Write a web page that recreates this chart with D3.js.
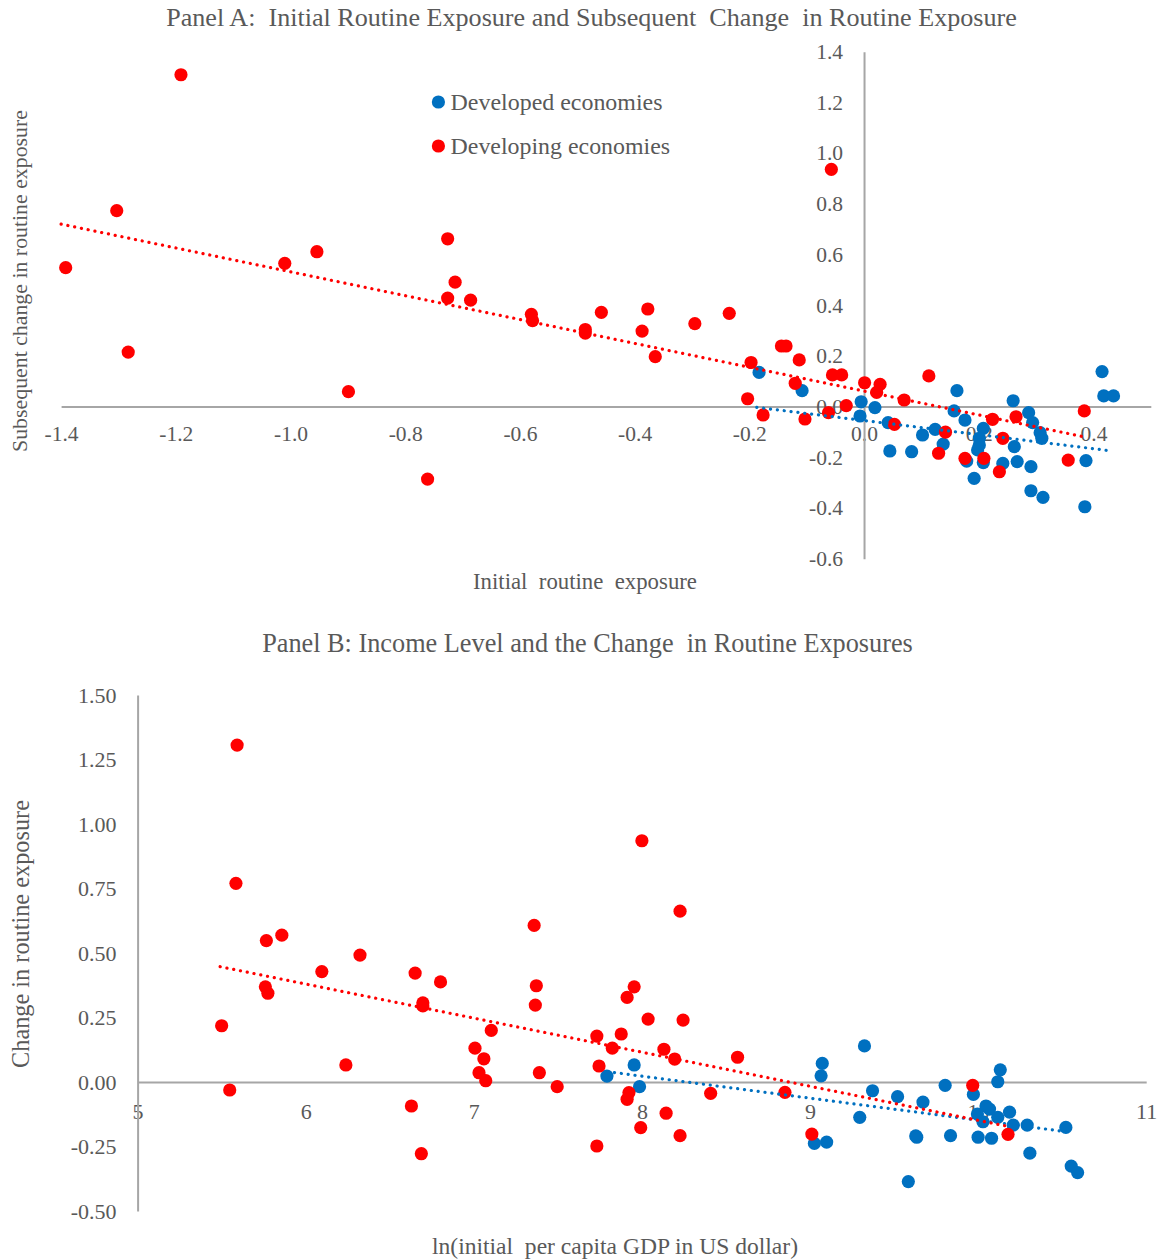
<!DOCTYPE html>
<html>
<head>
<meta charset="utf-8">
<script src="https://cdn.jsdelivr.net/npm/d3@7"></script>
<style>
  body { margin: 0; background: #fff; }
  text { font-family: "Liberation Serif", "Times New Roman", serif; fill: #595959; }
</style>
</head>
<body>
<svg id="chart" width="1157" height="1259"></svg>
<script>
// ---- Panel A: initial routine exposure vs subsequent change ----
var devA_x = [-0.183, -0.108, -0.005, -0.007, 0.019, 0.042, 0.045, 0.083, 0.102, 0.124, 0.138, 0.162, 0.157,
  0.176, 0.208, 0.201, 0.201, 0.198, 0.179, 0.208, 0.192, 0.242, 0.260, 0.262, 0.267, 0.287, 0.294, 0.307,
  0.310, 0.291, 0.291, 0.312, 0.387, 0.385, 0.415, 0.418, 0.435];
var devA_y = [0.135, 0.063, 0.019, -0.037, -0.004, -0.063, -0.175, -0.178, -0.112, -0.090, -0.148, 0.063, -0.017,
  -0.053, -0.086, -0.125, -0.151, -0.171, -0.215, -0.221, -0.283, -0.224, 0.023, -0.158, -0.217, -0.024, -0.063, -0.103,
  -0.125, -0.237, -0.332, -0.358, -0.213, -0.395, 0.138, 0.042, 0.042];

var dvgA_x = [-1.392, -1.303, -1.283, -1.191, -1.010, -0.954, -0.899, -0.761, -0.726, -0.713, -0.726, -0.686,
  -0.580, -0.578, -0.486, -0.486, -0.458, -0.387, -0.377, -0.364, -0.295, -0.235, -0.197, -0.203, -0.176,
  -0.144, -0.136, -0.113, -0.120, -0.103, -0.055, -0.039, -0.062, -0.057, -0.031, 0.001, 0.028, 0.022, 0.070,
  0.053, 0.113, 0.142, 0.130, 0.176, 0.209, 0.224, 0.265, 0.242, 0.236, 0.356, 0.384];
var dvgA_y = [0.548, 0.773, 0.215, 1.309, 0.565, 0.611, 0.059, -0.286, 0.662, 0.491, 0.428, 0.420,
  0.364, 0.339, 0.304, 0.290, 0.372, 0.298, 0.385, 0.197, 0.327, 0.368, 0.174, 0.031, -0.033,
  0.239, 0.239, 0.184, 0.092, -0.049, 0.125, 0.125, -0.024, 0.936, 0.004, 0.094, 0.088, 0.056, 0.026,
  -0.070, 0.121, -0.101, -0.184, -0.204, -0.204, -0.050, -0.040, -0.125, -0.257, -0.211, -0.017];

// trend line end points
var trendA_dev = { x: [-0.187, 0.432], y: [-0.003, -0.175] };
var trendA_dvg = { x: [-1.4, 0.383], y: [0.72, -0.119] };

var ticksA_x = [-1.4, -1.2, -1.0, -0.8, -0.6, -0.4, -0.2, 0.0, 0.2, 0.4];
var ticksA_y = [-0.6, -0.4, -0.2, 0.0, 0.2, 0.4, 0.6, 0.8, 1.0, 1.2, 1.4];

// ---- Panel B: income level vs change in routine exposure ----
var dvgB_x = [5.592, 5.585, 5.766, 5.858, 7.359, 8.000, 8.227, 6.323, 6.096, 6.651, 6.802, 5.760, 5.775,
  6.697, 6.697, 5.500, 7.104, 7.372, 7.366, 7.007, 7.060, 6.239, 7.031, 7.071, 7.390, 7.496, 5.548, 6.629,
  6.688, 7.954, 7.912, 8.037, 8.245, 7.732, 7.877, 7.824, 8.131, 8.195, 8.569, 7.745, 8.409, 8.851, 7.923,
  7.912, 8.144, 7.993, 8.227, 7.732, 9.011, 9.968, 10.178];
var dvgB_y = [1.306, 0.770, 0.548, 0.569, 0.607, 0.935, 0.662, 0.492, 0.428, 0.422, 0.388, 0.369, 0.344,
  0.307, 0.295, 0.218, 0.200, 0.373, 0.298, 0.131, 0.090, 0.066, 0.036, 0.005, 0.036, -0.018, -0.031, -0.093,
  -0.278, 0.369, 0.328, 0.244, 0.240, 0.178, 0.186, 0.131, 0.127, 0.089, 0.096, 0.062, -0.044, -0.040, -0.041,
  -0.067, -0.121, -0.177, -0.208, -0.248, -0.202, -0.013, -0.203];

var devB_x = [7.954, 7.792, 7.986, 9.324, 9.073, 9.066, 9.372, 9.521, 9.672, 9.804, 9.296, 9.026, 9.099,
  9.629, 9.635, 9.836, 9.585, 9.972, 10.132, 10.117, 10.047, 10.068, 9.996, 10.029, 10.117, 10.187, 10.209,
  10.292, 10.000, 10.080, 10.308, 10.522, 10.554, 10.592];
var devB_y = [0.066, 0.023, -0.018, 0.140, 0.072, 0.024, -0.034, -0.057, -0.078, -0.013, -0.137, -0.238, -0.233,
  -0.209, -0.214, -0.208, -0.386, -0.048, 0.047, 0.001, -0.093, -0.105, -0.124, -0.154, -0.137, -0.117, -0.167,
  -0.167, -0.214, -0.218, -0.276, -0.176, -0.326, -0.351];

var trendB_dev = { x: [7.796, 10.563], y: [0.04, -0.196] };
var trendB_dvg = { x: [5.491, 10.17], y: [0.447, -0.171] };

var ticksB_x = [5, 6, 7, 8, 9, 10, 11];
var ticksB_y = [-0.50, -0.25, 0.00, 0.25, 0.50, 0.75, 1.00, 1.25, 1.50];

var BLUE = '#0070c0', RED = '#ff0000', AXIS = '#a6a6a6';

var svg = d3.select('#chart');
svg.append('rect').attr('width', 1157).attr('height', 1259).attr('fill', '#fff');

function zip(xs, ys) {
  return xs.map(function (d, i) { return [d, ys[i]]; });
}

function styleAxis(g, size) {
  g.select('.domain').attr('stroke', AXIS).attr('stroke-width', 2);
  g.selectAll('.tick line').remove();
  g.selectAll('.tick text')
    .attr('fill', '#595959')
    .style('font-family', '"Liberation Serif", serif')
    .style('font-size', size + 'px');
}

function dots(g, pts, x, y, color) {
  g.append('g').selectAll('circle')
    .data(pts)
    .join('circle')
    .attr('cx', function (d) { return x(d[0]); })
    .attr('cy', function (d) { return y(d[1]); })
    .attr('r', 6.6)
    .attr('fill', color);
}

function trend(g, t, x, y, color) {
  g.append('path')
    .datum(zip(t.x, t.y))
    .attr('d', d3.line().x(function (d) { return x(d[0]); }).y(function (d) { return y(d[1]); }))
    .attr('fill', 'none')
    .attr('stroke', color)
    .attr('stroke-width', 3.2)
    .attr('stroke-linecap', 'round')
    .attr('stroke-dasharray', '0.1 6.8');
}

// sizes the text so that it spans roughly the width seen in the reference
function fitText(t, width, base) {
  t.style('font-size', base + 'px');
  var w = t.node().getComputedTextLength();
  var size = Math.min(base * width / w, base * 1.25);
  t.style('font-size', size.toFixed(2) + 'px');
}

function label(txt, x, y, size, len, rotate) {
  var t = svg.append('text')
    .attr('text-anchor', 'middle')
    .attr('dominant-baseline', 'central')
    .attr('xml:space', 'preserve')
    .style('white-space', 'pre')
    .text(txt);
  fitText(t, len, size);
  if (rotate) {
    t.attr('transform', 'translate(' + x + ',' + y + ') rotate(-90)');
  } else {
    t.attr('x', x).attr('y', y);
  }
  return t;
}

// ================= Panel A =================
var xA = d3.scaleLinear().domain([-1.4, 0.5]).range([61.1, 1150.8]);
var yA = d3.scaleLinear().domain([-0.6, 1.4]).range([558.7, 51.7]);

var gA = svg.append('g');
gA.append('g')
  .attr('transform', 'translate(0,' + yA(0) + ')')
  .call(d3.axisBottom(xA).tickValues(ticksA_x).tickSize(0).tickSizeOuter(0).tickPadding(19)
    .tickFormat(function (d) { return d.toFixed(1); }))
  .call(styleAxis, 21.5);
gA.append('g')
  .attr('transform', 'translate(' + xA(0) + ',0)')
  .call(d3.axisLeft(yA).tickValues(ticksA_y).tickSize(0).tickSizeOuter(0).tickPadding(21)
    .tickFormat(function (d) { return d.toFixed(1); }))
  .call(styleAxis, 21.5);

dots(gA, zip(devA_x, devA_y), xA, yA, BLUE);
dots(gA, zip(dvgA_x, dvgA_y), xA, yA, RED);
trend(gA, trendA_dev, xA, yA, BLUE);
trend(gA, trendA_dvg, xA, yA, RED);

label('Panel A:  Initial Routine Exposure and Subsequent  Change  in Routine Exposure', 591.5, 17, 24, 851);
label('Initial  routine  exposure', 585, 581, 22, 224);
label('Subsequent change in routine exposure', 20, 281, 22, 342, true);

// legend
var legend = [['Developed economies', BLUE, 102, 212], ['Developing economies', RED, 146, 219.5]];
legend.forEach(function (l) {
  svg.append('circle').attr('cx', 438.4).attr('cy', l[2]).attr('r', 6.6).attr('fill', l[1]);
  var t = svg.append('text')
    .attr('x', 450.6).attr('y', l[2])
    .attr('dominant-baseline', 'central')
    .text(l[0]);
  fitText(t, l[3], 22);
});

// ================= Panel B =================
var xB = d3.scaleLinear().domain([5, 11]).range([137.6, 1146.2]);
var yB = d3.scaleLinear().domain([-0.5, 1.5]).range([1211, 695]);

var gB = svg.append('g');
gB.append('g')
  .attr('transform', 'translate(0,' + yB(0) + ')')
  .call(d3.axisBottom(xB).tickValues(ticksB_x).tickSize(0).tickSizeOuter(0).tickPadding(21)
    .tickFormat(function (d) { return String(d); }))
  .call(styleAxis, 22);
gB.append('g')
  .attr('transform', 'translate(' + xB(5) + ',0)')
  .call(d3.axisLeft(yB).tickValues(ticksB_y).tickSize(0).tickSizeOuter(0).tickPadding(21)
    .tickFormat(function (d) { return d.toFixed(2); }))
  .call(styleAxis, 22);

dots(gB, zip(devB_x, devB_y), xB, yB, BLUE);
dots(gB, zip(dvgB_x, dvgB_y), xB, yB, RED);
trend(gB, trendB_dev, xB, yB, BLUE);
trend(gB, trendB_dvg, xB, yB, RED);

label('Panel B: Income Level and the Change  in Routine Exposures', 587.5, 643, 24, 651);
label('ln(initial  per capita GDP in US dollar)', 615, 1246, 22, 366);
label('Change in routine exposure', 20, 934, 23, 268, true);
</script>
</body>
</html>
